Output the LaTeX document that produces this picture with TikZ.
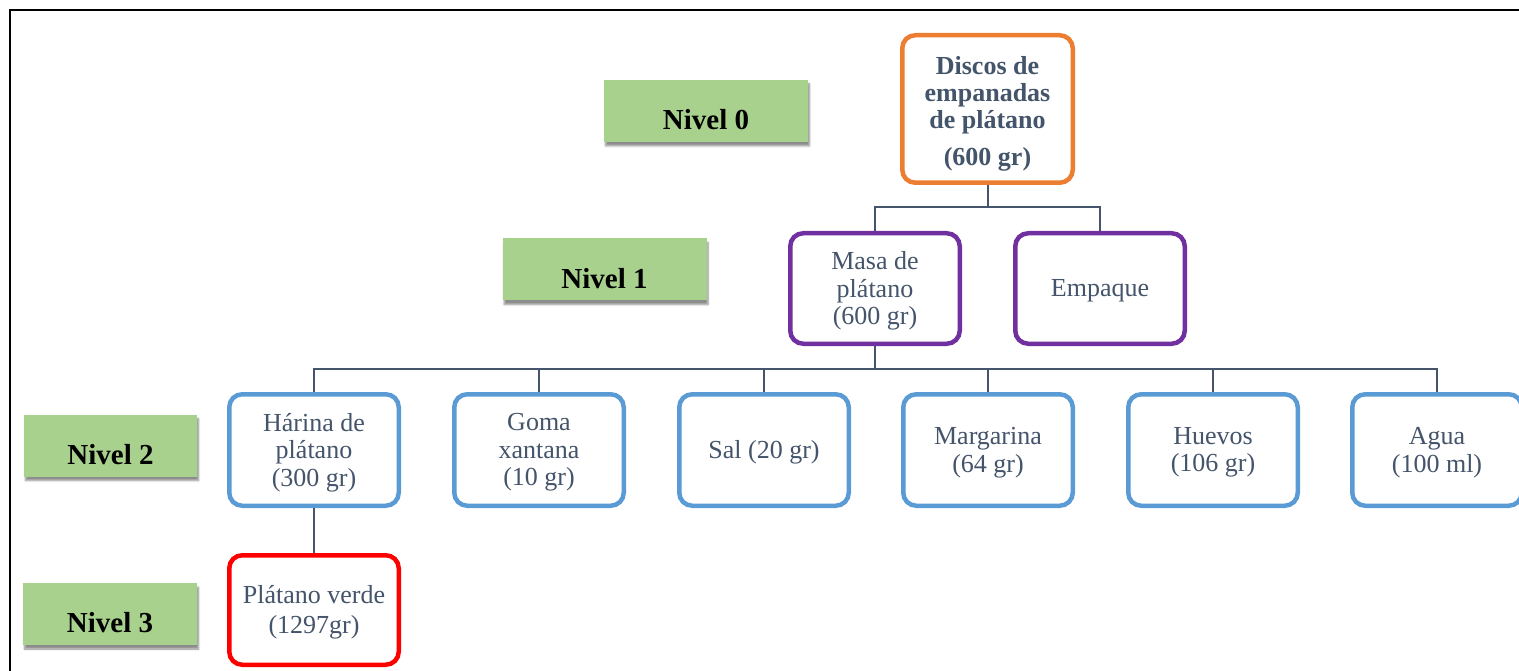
\documentclass[tikz,border=0pt]{standalone}
\usepackage{fontspec}
\setmainfont{Liberation Serif}
\usetikzlibrary{shadows.blur}
\definecolor{txt}{HTML}{44546A}
\definecolor{lvlgreen}{HTML}{A9D18E}
\definecolor{orangeb}{HTML}{ED7D31}
\definecolor{purpleb}{HTML}{7030A0}
\definecolor{blueb}{HTML}{5B9BD5}
\definecolor{redb}{HTML}{FF0000}
\tikzset{
  item/.style={draw, line width=4.5pt, rounded corners=13pt, fill=white,
    inner sep=0pt, minimum width=169.5pt, minimum height=111.5pt},
  itemtxt/.style={text=txt, align=center, font=\fontsize{26}{27.5}\selectfont,
    inner sep=0pt, yshift=-2.5pt},
  level/.style={fill=lvlgreen, minimum width=204pt, minimum height=62pt, inner sep=0pt,
    blur shadow={shadow blur steps=6, shadow xshift=1.5pt, shadow yshift=-4pt, shadow opacity=45}},
  leveltxt/.style={font=\bfseries\fontsize{29}{32}\selectfont, text=black, inner sep=0pt},
  link/.style={draw=txt, line width=2pt},
}
\begin{document}
\begin{tikzpicture}[x=1pt,y=-1pt]
\useasboundingbox (0,0) rectangle (1519,671);
% page frame
\draw[black, line width=2.2pt] (10,672) -- (10,10) -- (1520,10);

% level tags
\node[level] (L0) at (706,111) {};
\node[leveltxt] (t0) at (706,120) {Nivel 0};
\node[level] (L1) at (604.5,269.5) {};
\node[leveltxt] (t1) at (604.5,279) {Nivel 1};
\node[level,minimum width=173pt] (L2) at (110.5,445.5) {};
\node[leveltxt] (t2) at (110.5,455) {Nivel 2};
\node[level,minimum width=174pt] (L3) at (110,614) {};
\node[leveltxt] (t3) at (110,623) {Nivel 3};

% level 0
\node[item, draw=orangeb, minimum width=170.5pt, minimum height=147.5pt,
      label={[itemtxt, font=\bfseries\fontsize{26}{27}\selectfont, yshift=-2.5pt]center:Discos de\\empanadas\\de plátano\\[10pt](600 gr)}]
  (top) at (987.5,109) {};

% level 1
\node[item, draw=purpleb, minimum height=110.5pt,
      label={[itemtxt]center:Masa de\\plátano\\(600 gr)}] (masa) at (875,288.5) {};
\node[item, draw=purpleb, minimum height=110.5pt,
      label={[itemtxt]center:Empaque}] (emp) at (1100,288.5) {};

% level 2
\node[item, draw=blueb, label={[itemtxt]center:Hárina de\\plátano\\(300 gr)}] (har) at (314,450) {};
\node[item, draw=blueb, label={[itemtxt]center:Goma\\xantana\\(10 gr)}] (goma) at (539,450) {};
\node[item, draw=blueb, label={[itemtxt]center:Sal (20 gr)}] (sal) at (764,450) {};
\node[item, draw=blueb, label={[itemtxt]center:Margarina\\(64 gr)}] (marg) at (988,450) {};
\node[item, draw=blueb, label={[itemtxt]center:Huevos\\(106 gr)}] (huev) at (1213,450) {};
\node[item, draw=blueb, label={[itemtxt]center:Agua\\(100 ml)}] (agua) at (1437,450) {};

% level 3
\node[item, draw=redb, minimum height=109.5pt,
      label={[itemtxt, font=\fontsize{26}{30}\selectfont]center:Plátano verde\\(1297gr)}] (verde) at (314,610) {};

% connectors
\coordinate (j0) at (987.5,207);
\coordinate (j1) at (875,369);
\draw[link] (top.south) -- (j0);
\draw[link] (masa.north) |- (j0) -| (emp.north);
\draw[link] (masa.south) -- (j1);
\draw[link] (har.north) |- (j1) -| (agua.north);
\draw[link] (goma.north) -- (goma.north |- j1);
\draw[link] (sal.north) -- (sal.north |- j1);
\draw[link] (marg.north) -- (marg.north |- j1);
\draw[link] (huev.north) -- (huev.north |- j1);
\draw[link] (har.south) -- (verde.north);
\end{tikzpicture}
\end{document}
